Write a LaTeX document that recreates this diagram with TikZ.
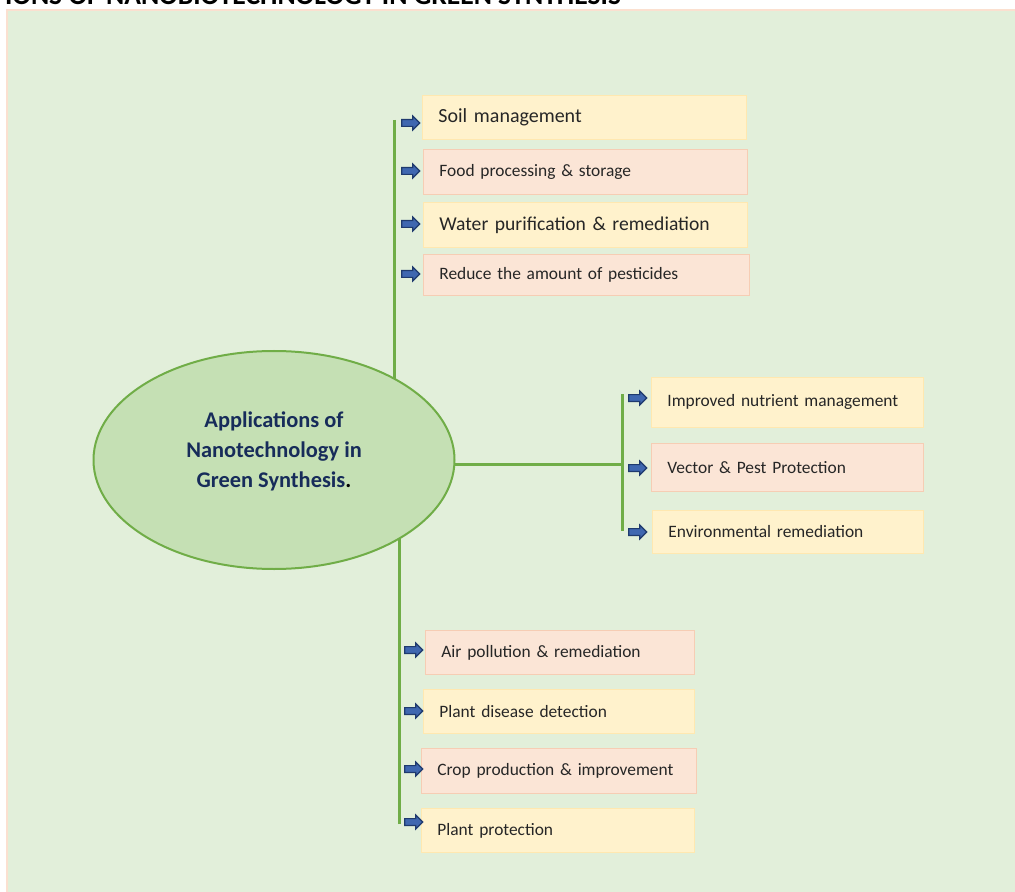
\documentclass[tikz,border=0pt]{standalone}
\usepackage{fontspec}
\setmainfont{Carlito}
\usetikzlibrary{shapes.geometric,shapes.arrows}
\definecolor{panelgreen}{HTML}{E2EFDA}
\definecolor{paneledge}{HTML}{FBE0D0}
\definecolor{boxyellow}{HTML}{FFF2CC}
\definecolor{edgeyellow}{HTML}{FFE8B0}
\definecolor{boxpink}{HTML}{FBE5D6}
\definecolor{edgepink}{HTML}{F6CDB4}
\definecolor{hubfill}{HTML}{C5E0B4}
\definecolor{hubgreen}{HTML}{70AD47}
\definecolor{navy}{HTML}{172C5A}
\definecolor{arrowblue}{HTML}{3F67B0}
\definecolor{arrowedge}{HTML}{1F3A6E}
\definecolor{boxtext}{HTML}{262626}
\tikzstyle{yellowbox} = [rectangle, anchor=north west, fill=boxyellow, draw=edgeyellow, line width=0.4pt, align=left, inner xsep=8pt, text=boxtext, font=\fontsize{8.7}{11}\selectfont]
\tikzstyle{pinkbox} = [rectangle, anchor=north west, fill=boxpink, draw=edgepink, line width=0.4pt, align=left, inner xsep=8pt, text=boxtext, font=\fontsize{8.7}{11}\selectfont]
\tikzstyle{hub} = [ellipse, minimum width=180.5pt, minimum height=109pt, inner sep=0pt, fill=hubfill, draw=hubgreen, line width=1pt]
\tikzstyle{hubtext} = [align=center, text=navy, font=\bfseries\fontsize{11.2}{15}\selectfont]
\tikzstyle{branch} = [draw=hubgreen, line width=1.5pt]
\tikzstyle{pointer} = [single arrow, minimum height=9pt, inner sep=1.4pt, single arrow head extend=1.8pt, fill=arrowblue, draw=arrowedge, line width=0.6pt]

\begin{document}
\hyphenpenalty=10000
\begin{tikzpicture}[x=0.5pt, y=-0.5pt]
\useasboundingbox (0,0) rectangle (1015,892);

% panel and title
\fill[panelgreen] (7,10) rectangle (1015,892);
\draw[paneledge, line width=1pt] (7,892) -- (7,10) -- (1015,10);
\node (title) [anchor=base east, font=\bfseries\fontsize{13.8}{16}\selectfont] at (628,5) {APPLICATIONS OF NANOBIOTECHNOLOGY IN GREEN SYNTHESIS};

% branch lines
\coordinate (ctr) at (274,460);
\coordinate (toptip) at (394,120);
\coordinate (botbase) at (399,824);
\coordinate (rjoin) at (622,464);
\coordinate (rtop) at (622,394);
\coordinate (rbot) at (622,531);
\draw [branch] (toptip) -- (toptip |- ctr);
\draw [branch] (botbase) -- (botbase |- ctr);
\draw [branch] (ctr |- rjoin) -- (rjoin);
\draw [branch] (rtop) -- (rbot);

\node (hub) [hub] at (ctr) {};
\node (hublabel) [hubtext] at (274,451) {Applications of\\Nanotechnology in\\Green Synthesis\textcolor{black}{.}};

% top group
\node (soil) [yellowbox, text width=146pt, minimum height=22pt, font=\fontsize{10}{12}\selectfont] at (422,95) {Soil management};
\node (food) [pinkbox, text width=146pt, minimum height=22.5pt] at (423,149) {Food processing \& storage};
\node (water) [yellowbox, text width=146pt, minimum height=22.5pt, font=\fontsize{9.8}{12}\selectfont] at (423,202) {Water purification \& remediation};
\node (pest) [pinkbox, text width=147pt, minimum height=20.5pt] at (423,254) {Reduce the amount of pesticides};
\node (a1) [pointer] at (409,123) {};
\node (a2) [pointer] at (409,171) {};
\node (a3) [pointer] at (409,224) {};
\node (a4) [pointer] at (409,274) {};

% right group
\node (nutrient) [yellowbox, text width=120pt, minimum height=25pt] at (651,377) {Improved nutrient management};
\node (vector) [pinkbox, text width=120pt, minimum height=24pt] at (651,443) {Vector \& Pest Protection};
\node (envrem) [yellowbox, text width=119.5pt, minimum height=21.5pt] at (652,510) {Environmental remediation};
\node (a5) [pointer] at (636,398) {};
\node (a6) [pointer] at (636,468) {};
\node (a7) [pointer] at (636,532) {};

% bottom group
\node (air) [pinkbox, text width=118.5pt, minimum height=22pt] at (425,630) {Air pollution \& remediation};
\node (disease) [yellowbox, text width=119.5pt, minimum height=22pt] at (423,689) {Plant disease detection};
\node (crop) [pinkbox, text width=121.5pt, minimum height=22.5pt] at (421,748) {Crop production \& improvement};
\node (protect) [yellowbox, text width=120.5pt, minimum height=22pt] at (421,808) {Plant protection};
\node (a8) [pointer] at (412,650) {};
\node (a9) [pointer] at (412,711) {};
\node (a10) [pointer] at (412,769) {};
\node (a11) [pointer] at (412,822) {};

\end{tikzpicture}
\end{document}
